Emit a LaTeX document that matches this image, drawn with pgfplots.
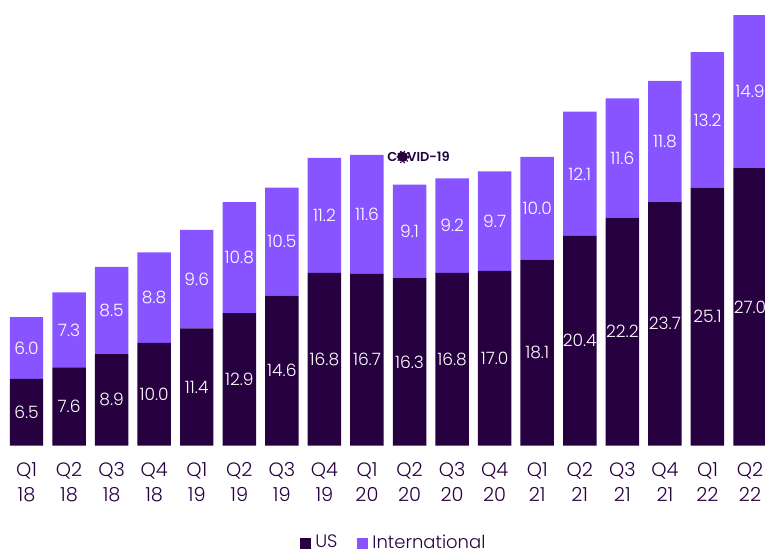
\documentclass[border=0pt]{standalone}
\usepackage{fontspec}
\setmainfont{Poppins}[UprightFont=* Light, BoldFont=* SemiBold]
\usepackage{pgfplots}
\usepackage{pgfplotstable}
\pgfplotsset{compat=1.18}
\definecolor{usc}{HTML}{26003F}
\definecolor{intl}{HTML}{8854FF}
\pgfplotstableread{
q us intl
0 6.5 6.0
1 7.6 7.3
2 8.9 8.5
3 10.0 8.8
4 11.4 9.6
5 12.9 10.8
6 14.6 10.5
7 16.8 11.2
8 16.7 11.6
9 16.3 9.1
10 16.8 9.2
11 17.0 9.7
12 18.1 10.0
13 20.4 12.1
14 22.2 11.6
15 23.7 11.8
16 25.1 13.2
17 27.0 14.9
}\revenue
\begin{document}
\begin{tikzpicture}[x=0.75pt,y=0.75pt]
% page is 765x551 px at 0.75pt per px, axis corner on the bars' baseline
\useasboundingbox (0,-105.5) rectangle (765,445.5);
\begin{axis}[
    at={(0,0)}, anchor=south west,
    scale only axis,
    width=573.75pt, height=334.125pt,
    ybar stacked,
    bar width=25.1pt,
    xmin=-0.6227, xmax=17.352,
    ymin=0, ymax=43.38,
    axis line style={draw=none},
    ytick=\empty,
    xtick=data,
    xticklabels={{Q1\\18},{Q2\\18},{Q3\\18},{Q4\\18},{Q1\\19},{Q2\\19},{Q3\\19},{Q4\\19},{Q1\\20},{Q2\\20},{Q3\\20},{Q4\\20},{Q1\\21},{Q2\\21},{Q3\\21},{Q4\\21},{Q1\\22},{Q2\\22}},
    major tick length=0pt,
    xticklabel style={align=center, font=\fontsize{14.5}{18.75}\selectfont, text=usc, yshift=-9.5pt},
    /pgf/number format/assume math mode=true,
    nodes near coords,
    point meta=rawy,
    every node near coord/.append style={
        anchor=center, text=white, font=\fontsize{12.8}{15}\selectfont,
        /pgf/number format/fixed, /pgf/number format/fixed zerofill, /pgf/number format/precision=1},
    legend columns=2,
    legend style={draw=none, fill=none, at={(0.5148,-0.218)}, anchor=center,
        font=\fontsize{13.5}{16}\selectfont, text=usc,
        nodes={inner ysep=0pt},
        /tikz/every odd column/.append style={column sep=1.5pt},
        /tikz/every even column/.append style={column sep=12.5pt}},
    legend image code/.code={\fill[#1] (0,-4.5pt) rectangle (8.25pt,3.75pt);},
]
\addplot[fill=usc, draw=none] table [x=q, y=us] {\revenue};
\addplot[fill=intl, draw=none] table [x=q, y=intl] {\revenue};
\legend{US, International}
\end{axis}
% annotation above the Q1 20 bar
\node[text=usc, font=\bfseries\fontsize{9.7}{12}\selectfont, anchor=center] at (418.5,288.5) {COVID-19};
\fill[usc] (403,288.5) circle (5);
\draw[usc, line width=1pt, dash pattern=on 1pt off 1.6pt] (403,288.5) circle (5.8);
\end{tikzpicture}
\end{document}
